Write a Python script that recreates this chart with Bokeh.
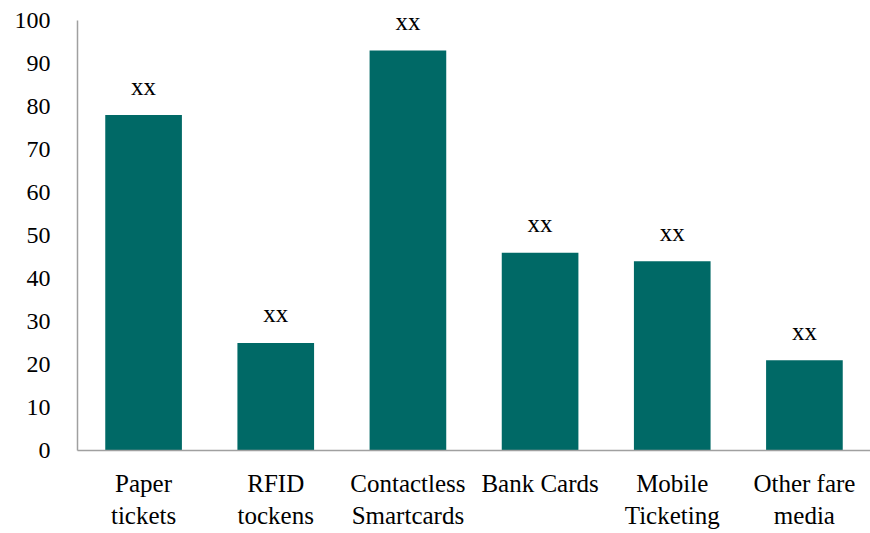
from bokeh.plotting import figure
from bokeh.models import ColumnDataSource, FactorRange, Range1d, FixedTicker
from bokeh.core.properties import value
from bokeh.embed import file_html
from bokeh.resources import INLINE

# Fare media categories and their values
categories = ["Paper\ntickets", "RFID\ntockens", "Contactless\nSmartcards",
              "Bank Cards", "Mobile\nTicketing", "Other fare\nmedia"]
values = [78, 25, 93, 46, 44, 21]
bar_labels = ["xx", "xx", "xx", "xx", "xx", "xx"]
y_ticks = [0, 10, 20, 30, 40, 50, 60, 70, 80, 90, 100]

FONT = "Liberation Serif"
BAR_COLOR = "#006966"
AXIS_COLOR = "#a0a0a0"

source = ColumnDataSource(dict(cat=categories, val=values, lab=bar_labels))

# the value range runs a little past 100 so the labels above the tallest bar fit
p = figure(
    x_range=FactorRange(*categories, range_padding=0, factor_padding=0),
    y_range=Range1d(0, 104.65),
    width=870, height=533,
    output_backend="svg", toolbar_location=None,
    min_border_left=77, min_border_right=0,
    min_border_top=0, min_border_bottom=83,
)

p.vbar(x="cat", top="val", width=0.58, source=source,
       fill_color=BAR_COLOR, line_color=None)

p.text(x="cat", y="val", text="lab", source=source,
       text_font=value(FONT), text_font_size="25px", text_color="#000000",
       text_align="center", text_baseline="alphabetic", y_offset=-29)

p.grid.visible = False
p.outline_line_color = None
p.background_fill_color = "white"
p.border_fill_color = "white"

p.yaxis.ticker = FixedTicker(ticks=y_ticks)
p.yaxis.bounds = (0, 100)
for ax in (p.xaxis, p.yaxis):
    ax.axis_line_color = AXIS_COLOR
    ax.axis_line_width = 1.5
    ax.major_tick_line_color = None
    ax.minor_tick_line_color = None
    ax.major_tick_out = 0
    ax.major_tick_in = 0
    ax.minor_tick_out = 0
    ax.major_label_text_font = FONT
    ax.major_label_text_color = "#000000"

p.yaxis.major_label_text_font_size = "24px"
p.yaxis.major_label_standoff = 27
p.xaxis.major_label_text_font_size = "25px"
p.xaxis.major_label_standoff = 19

open("out.html", "w").write(file_html(p, INLINE))
